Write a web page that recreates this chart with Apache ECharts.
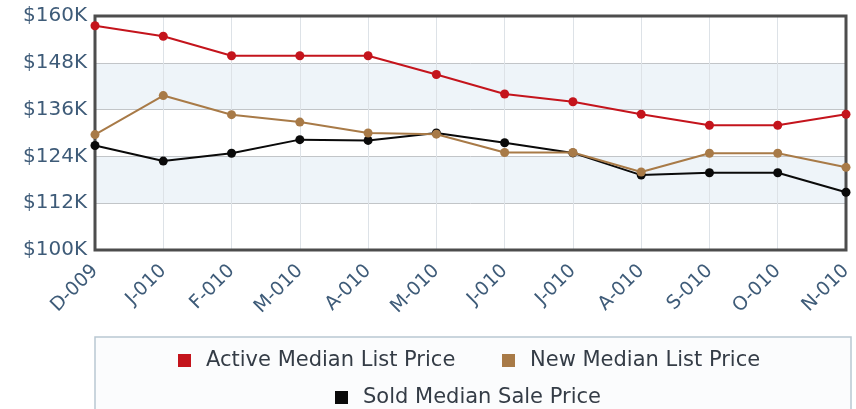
<!DOCTYPE html>
<html>
<head>
<meta charset="utf-8">
<script src="https://cdn.jsdelivr.net/npm/echarts@6/dist/echarts.min.js"></script>
<style>
  html, body { margin: 0; padding: 0; background: #fff; }
  #main { width: 856px; height: 409px; }
</style>
</head>
<body>
<div id="main"></div>
<script>
var months = ['D-009', 'J-010', 'F-010', 'M-010', 'A-010', 'M-010', 'J-010', 'J-010', 'A-010', 'S-010', 'O-010', 'N-010'];
var activeList = [157500, 154800, 149800, 149800, 149800, 145000, 140000, 138000, 134800, 132000, 132000, 134800];
var newList = [129600, 139600, 134700, 132800, 130000, 129700, 125000, 125000, 120000, 124800, 124800, 121200];
var soldSale = [126800, 122800, 124800, 128300, 128100, 130000, 127500, 124900, 119200, 119800, 119800, 114800];
var yTicks = [100000, 112000, 124000, 136000, 148000, 160000];

var names = ['Active Median List Price', 'New Median List Price', 'Sold Median Sale Price'];
var colors = ['#c4141c', '#a87a47', '#0a0a0a'];
var labelColor = '#3e5b78';
var font = '"DejaVu Sans", Verdana, sans-serif';

var chart = echarts.init(document.getElementById('main'), null, { renderer: 'canvas' });

function legendAt(name, left, top) {
  return {
    data: [name],
    left: left,
    top: top,
    icon: 'rect',
    itemWidth: 13,
    itemHeight: 13,
    selectedMode: false,
    textStyle: { fontFamily: font, fontSize: 21, color: '#343c46', padding: [0, 0, 0, 10] }
  };
}

var option = {
  animation: false,
  backgroundColor: '#fff',
  color: colors,
  grid: {
    left: 95, right: 10, top: 16, bottom: 159, z: 5,
    show: true, borderColor: '#4d4d4d', borderWidth: 3, backgroundColor: 'transparent'
  },
  graphic: [{
    type: 'rect',
    shape: { x: 95, y: 337, width: 756, height: 90 },
    style: { fill: '#fbfcfd', stroke: '#b9c7d2', lineWidth: 1.5 },
    z: -1
  }],
  legend: [
    legendAt(names[0], 173, 345),
    legendAt(names[1], 497, 345),
    legendAt(names[2], 330, 382)
  ],
  xAxis: {
    type: 'category',
    data: months,
    boundaryGap: false,
    axisLine: { show: false },
    axisTick: { show: false },
    splitLine: { show: true, lineStyle: { color: '#dde2e7', width: 1 } },
    axisLabel: {
      rotate: 45, margin: 18, interval: 0,
      color: labelColor, fontFamily: font, fontSize: 19
    }
  },
  yAxis: {
    type: 'value',
    min: yTicks[0],
    max: yTicks[yTicks.length - 1],
    interval: yTicks[1] - yTicks[0],
    axisLine: { show: false },
    axisTick: { show: false },
    splitLine: { lineStyle: { color: '#c2c5c8', width: 1 } },
    splitArea: { show: true, areaStyle: { color: ['#ffffff', '#eef4f9'] } },
    axisLabel: {
      margin: 8, color: labelColor, fontFamily: font, fontSize: 20,
      formatter: function (v) { return '$' + (v / 1000) + 'K'; }
    }
  },
  series: [
    { name: names[0], type: 'line', data: activeList },
    { name: names[1], type: 'line', data: newList },
    { name: names[2], type: 'line', data: soldSale }
  ].map(function (s, i) {
    s.symbol = 'circle';
    s.symbolSize = 9;
    s.lineStyle = { width: 2, color: colors[i] };
    s.itemStyle = { color: colors[i] };
    s.z = 10 - i;
    return s;
  })
};

chart.setOption(option);
</script>
</body>
</html>
